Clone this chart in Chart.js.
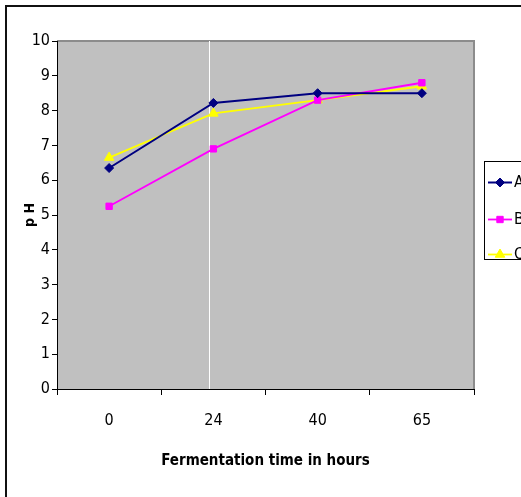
<!DOCTYPE html>
<html>
<head>
<meta charset="utf-8">
<script src="https://cdn.jsdelivr.net/npm/chart.js@4/dist/chart.umd.min.js"></script>
<style>
  html, body { margin: 0; padding: 0; background: #fff; }
  canvas { display: block; }
</style>
</head>
<body>
<canvas id="c" width="521" height="497"></canvas>
<script>
// data
const hours = ['0', '24', '40', '65'];
const seriesA = [6.35, 8.22, 8.5, 8.5];
const seriesB = [5.25, 6.9, 8.3, 8.8];
const seriesC = [6.65, 7.92, 8.3, 8.7];
const yTicks = [0, 1, 2, 3, 4, 5, 6, 7, 8, 9, 10];

const FONT = "'Liberation Sans Narrow', 'Arial Narrow', 'DejaVu Sans Condensed', sans-serif";

// plot background, white drop line, border, outer frame and legend
const framePlugin = {
  id: 'frame',
  beforeDraw(chart) {
    const { ctx, chartArea: a } = chart;
    ctx.save();
    ctx.fillStyle = '#c0c0c0';
    ctx.fillRect(a.left, a.top, a.right - a.left, a.bottom - a.top);
    ctx.strokeStyle = '#8c8c8c';
    ctx.lineWidth = 2;
    ctx.beginPath();
    ctx.moveTo(a.left, a.top);
    ctx.lineTo(a.right, a.top);
    ctx.lineTo(a.right, a.bottom);
    ctx.stroke();
    // white vertical line just left of the 24 h point
    const x = Math.round(chart.scales.x.getPixelForValue(0.96)) + 0.5;
    ctx.strokeStyle = '#ffffff';
    ctx.lineWidth = 1;
    ctx.beginPath();
    ctx.moveTo(x, a.top);
    ctx.lineTo(x, a.bottom);
    ctx.stroke();
    // outer frame
    ctx.strokeStyle = '#111';
    ctx.lineWidth = 2;
    ctx.beginPath();
    ctx.moveTo(6, chart.height);
    ctx.lineTo(6, 6);
    ctx.lineTo(chart.width, 6);
    ctx.stroke();
    ctx.restore();
  },
  afterDraw(chart) {
    const { ctx } = chart;
    const left = 484, top = 161, bottom = 259;
    ctx.save();
    ctx.fillStyle = '#fff';
    ctx.fillRect(left, top, chart.width - left, bottom - top);
    ctx.strokeStyle = '#000';
    ctx.lineWidth = 1;
    ctx.strokeRect(left + 0.5, top + 0.5, chart.width, bottom - top);
    const rows = [182, 219, 254];
    chart.data.datasets.forEach((ds, i) => {
      const y = rows[i] + 0.5;
      ctx.strokeStyle = ds.borderColor;
      ctx.lineWidth = ds.borderWidth;
      ctx.beginPath();
      ctx.moveTo(488, y);
      ctx.lineTo(512, y);
      ctx.stroke();
      ctx.fillStyle = ds.borderColor;
      ctx.lineWidth = 1;
      Chart.helpers.drawPoint(ctx, {
        pointStyle: ds.pointStyle,
        radius: ds.pointRadius,
        borderWidth: 1
      }, 500, y);
      ctx.fillStyle = '#000';
      ctx.font = '16px ' + FONT;
      ctx.textBaseline = 'middle';
      ctx.fillText(ds.label, 514, y);
    });
    ctx.restore();
  }
};

function point(color, style, r) {
  return {
    borderColor: color,
    backgroundColor: color,
    pointStyle: style,
    pointRadius: r,
    pointBackgroundColor: color,
    pointBorderColor: color,
    pointBorderWidth: 1
  };
}

new Chart(document.getElementById('c'), {
  type: 'line',
  data: {
    labels: hours,
    datasets: [
      { label: 'A', data: seriesA, borderWidth: 2, ...point('#000080', 'rectRot', 4.5) },
      { label: 'B', data: seriesB, borderWidth: 1.8, ...point('#ff00ff', 'rect', 4.5) },
      { label: 'C', data: seriesC, borderWidth: 1.8, ...point('#ffff00', 'triangle', 5.5) }
    ]
  },
  options: {
    responsive: false,
    animation: false,
    layout: { padding: { left: 0, top: 41, right: 47, bottom: 0 } },
    plugins: {
      legend: { display: false },
      tooltip: { enabled: false }
    },
    elements: { line: { tension: 0 } },
    scales: {
      x: {
        offset: true,
        afterFit(scale) { scale.height = 108; },
        grid: {
          offset: true,
          drawOnChartArea: false,
          tickLength: 6,
          color: '#000'
        },
        border: { color: '#000', width: 1 },
        ticks: {
          color: '#000',
          padding: 16,
          maxRotation: 0,
          font: { family: FONT, size: 16 }
        },
        title: {
          display: true,
          text: 'Fermentation time in hours',
          color: '#000',
          padding: { top: 0, bottom: 27 },
          font: { family: FONT, size: 15, weight: 'bold' }
        }
      },
      y: {
        min: 0,
        max: 10,
        afterFit(scale) { scale.width = 57; },
        afterBuildTicks(scale) { scale.ticks = yTicks.map(v => ({ value: v })); },
        grid: {
          drawOnChartArea: false,
          tickLength: 5,
          color: '#000'
        },
        border: { color: '#000', width: 1 },
        ticks: {
          color: '#000',
          padding: 2,
          font: { family: FONT, size: 16 }
        },
        title: {
          display: true,
          text: 'p H',
          color: '#000',
          padding: { top: 22, bottom: 0 },
          font: { family: FONT, size: 14, weight: 'bold' }
        }
      }
    }
  },
  plugins: [framePlugin]
});
</script>
</body>
</html>
